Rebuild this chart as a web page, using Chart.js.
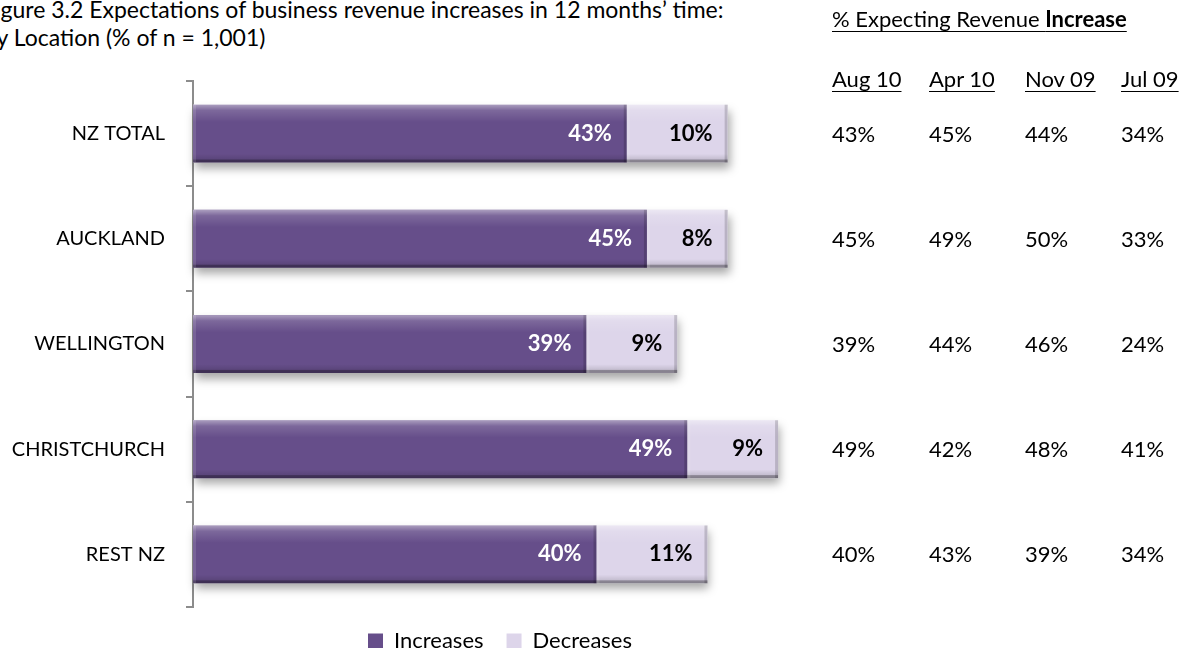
<!DOCTYPE html>
<html>
<head>
<meta charset="utf-8">
<script src="https://cdn.jsdelivr.net/npm/chart.js@4.4.1/dist/chart.umd.min.js"></script>
<style>
  body { margin: 0; background: #fff; font-family: Lato, sans-serif; color: #000; }
  #wrap { position: relative; width: 1184px; height: 648px; overflow: hidden; }
  #chart-box { position: absolute; left: 0; top: 0; }
  .title { position: absolute; left: -18px; top: -5px; font-size: 23px; line-height: 28px; white-space: nowrap; }
  .side { position: absolute; font-size: 22px; line-height: 22px; white-space: nowrap; }
  .u { text-decoration: underline; text-underline-offset: 4px; text-decoration-thickness: 1px; }
</style>
</head>
<body>
<div id="wrap">
  <div class="title">Figure 3.2 Expectations of business revenue increases in 12 months’ time:<br>By Location (% of n = 1,001)</div>
  <canvas id="chart-box" width="1000" height="648"></canvas>
  <div id="side"></div>
</div>
<script>
// locations and this period's split
const locations = ["NZ TOTAL", "AUCKLAND", "WELLINGTON", "CHRISTCHURCH", "REST NZ"];
const increases = [43, 45, 39, 49, 40];
const decreases = [10, 8, 9, 9, 11];

// % expecting revenue increase, by survey period
const periods = ["Aug 10", "Apr 10", "Nov 09", "Jul 09"];
const aug10 = increases;
const apr10 = [45, 49, 44, 42, 43];
const nov09 = [44, 50, 46, 48, 39];
const jul09 = [34, 33, 24, 41, 34];
const periodValues = [aug10, apr10, nov09, jul09];

const colX = [832, 929, 1025, 1121];

Chart.defaults.font.family = "Lato, sans-serif";

// soft drop shadow under each full stacked bar
const barShadow = {
  id: "barShadow",
  beforeDatasetsDraw(chart) {
    const c = chart.ctx;
    const first = chart.getDatasetMeta(0).data;
    const last = chart.getDatasetMeta(chart.data.datasets.length - 1).data;
    c.save();
    first.forEach((el, i) => {
      const end = last[i].x;
      const h = el.height;
      c.shadowColor = "rgba(0,0,0,0.35)";
      c.shadowBlur = 9;
      c.shadowOffsetX = 2;
      c.shadowOffsetY = 6;
      c.fillStyle = "#fff";
      c.fillRect(el.base, el.y - h / 2, end - el.base, h);
    });
    c.restore();
  }
};

// bevel look: light top, dark bottom and right edges
const bevel = {
  id: "bevel",
  afterDatasetsDraw(chart) {
    const c = chart.ctx;
    c.save();
    chart.data.datasets.forEach((ds, d) => {
      chart.getDatasetMeta(d).data.forEach(el => {
        const left = Math.min(el.base, el.x);
        const w = Math.abs(el.x - el.base);
        const h = el.height;
        const top = el.y - h / 2;
        const g = c.createLinearGradient(0, top, 0, top + h);
        g.addColorStop(0, "rgba(255,255,255,0.45)");
        g.addColorStop(0.1, "rgba(255,255,255,0.15)");
        g.addColorStop(0.3, "rgba(255,255,255,0)");
        g.addColorStop(0.85, "rgba(0,0,0,0)");
        g.addColorStop(1, "rgba(0,0,0,0.18)");
        c.fillStyle = g;
        c.fillRect(left, top, w, h);
        c.fillStyle = "rgba(0,0,0,0.28)";
        c.fillRect(left, top + h - 3, w, 3);
        c.fillStyle = "rgba(0,0,0,0.16)";
        c.fillRect(left + w - 3, top, 3, h);
        c.fillStyle = "rgba(255,255,255,0.12)";
        c.fillRect(left, top, 3, h);
      });
    });
    c.restore();
  }
};

// value labels inside the end of each segment
const endLabels = {
  id: "endLabels",
  afterDatasetsDraw(chart) {
    const c = chart.ctx;
    c.save();
    c.font = "bold 22px Lato, sans-serif";
    c.textAlign = "right";
    c.textBaseline = "middle";
    chart.data.datasets.forEach((ds, d) => {
      c.fillStyle = d === 0 ? "#fff" : "#000";
      chart.getDatasetMeta(d).data.forEach((el, i) => {
        c.fillText(ds.data[i] + "%", el.x - 15, el.y);
      });
    });
    c.restore();
  }
};

// period table to the right, rows lined up with the categories
const sideTable = {
  id: "sideTable",
  afterDraw(chart) {
    const y = chart.scales.y;
    let html = '<div class="side u" style="left:832px;top:8px">% Expecting Revenue <b>Increase</b></div>';
    periods.forEach((p, j) => {
      html += '<div class="side u" style="left:' + colX[j] + 'px;top:68px">' + p + '</div>';
    });
    locations.forEach((loc, i) => {
      const top = y.getPixelForValue(i) - 11;
      periodValues.forEach((vals, j) => {
        html += '<div class="side" style="left:' + colX[j] + 'px;top:' + top + 'px">' + vals[i] + '%</div>';
      });
    });
    document.getElementById("side").innerHTML = html;
  }
};

const ctx = document.getElementById("chart-box").getContext("2d");
const locationChart = new Chart(ctx, {
  type: "bar",
  data: {
    labels: locations,
    datasets: [
      { label: "Increases", data: increases, backgroundColor: "#664e8a", borderWidth: 0 },
      { label: "Decreases", data: decreases, backgroundColor: "#ddd5ea", borderWidth: 0 },
    ],
  },
  options: {
    indexAxis: "y",
    responsive: false,
    animation: false,
    layout: { padding: { top: 81, bottom: -14 } },
    datasets: { bar: { categoryPercentage: 1, barPercentage: 0.55 } },
    scales: {
      x: { stacked: true, min: 0, max: 80, display: false },
      y: {
        stacked: true,
        grid: { offset: true, drawOnChartArea: false, tickLength: 7, color: "#8c8c8c", lineWidth: 2 },
        border: { color: "#8c8c8c", width: 2 },
        ticks: { color: "#000", font: { size: 20 }, padding: 21 },
        afterFit(scale) { scale.width = 193; },
      },
    },
    plugins: {
      legend: {
        position: "bottom",
        labels: { boxWidth: 15, boxHeight: 15, color: "#000", font: { size: 22 }, padding: 23 },
      },
      tooltip: { enabled: false },
    },
  },
  plugins: [barShadow, bevel, endLabels, sideTable],
});
</script>
</body>
</html>
